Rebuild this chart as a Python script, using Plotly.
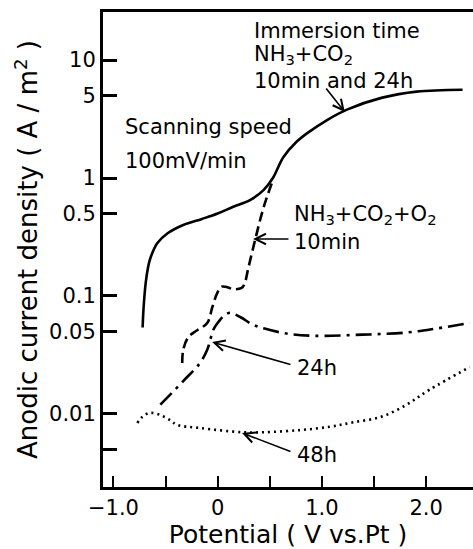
import plotly.graph_objects as go

# NH3+CO2 (10 min and 24 h) - solid
x_solid = [-0.72, -0.71, -0.69, -0.665, -0.645, -0.58, -0.48, -0.33, -0.15, 0.0, 0.15, 0.31,
           0.44, 0.53, 0.63, 0.75, 0.86, 1.05, 1.24, 1.58, 1.91, 2.35]
y_solid = [0.054, 0.081, 0.13, 0.18, 0.21, 0.28, 0.34, 0.40, 0.45, 0.50, 0.57, 0.65,
           0.79, 1.0, 1.5, 2.0, 2.4, 3.1, 3.8, 4.8, 5.4, 5.6]

# NH3+CO2+O2 10 min - dashed
x_10min = [-0.34, -0.33, -0.28, -0.20, -0.10, -0.05, 0.0, 0.04, 0.10, 0.15, 0.23, 0.26,
           0.29, 0.36, 0.44, 0.53]
y_10min = [0.027, 0.035, 0.045, 0.051, 0.059, 0.081, 0.108, 0.120, 0.118, 0.114, 0.117, 0.128,
           0.166, 0.30, 0.56, 0.96]

# NH3+CO2+O2 24 h - dash-dot
x_24h = [-0.55, -0.33, -0.17, -0.10, -0.04, 0.0, 0.06, 0.12, 0.22, 0.34, 0.45, 0.66,
         0.91, 1.39, 1.81, 2.10, 2.42]
y_24h = [0.012, 0.019, 0.027, 0.035, 0.052, 0.059, 0.068, 0.072, 0.066, 0.057, 0.053, 0.048,
         0.046, 0.047, 0.049, 0.053, 0.059]

# NH3+CO2+O2 48 h - dotted
x_48h = [-0.77, -0.72, -0.65, -0.55, -0.45, -0.39, -0.17, 0.24, 0.44, 0.79, 1.08, 1.30,
         1.56, 1.80, 2.03, 2.42]
y_48h = [0.0084, 0.0095, 0.0102, 0.0098, 0.0088, 0.0081, 0.0076, 0.0070, 0.0070, 0.0073, 0.0078,
         0.0085, 0.0094, 0.0118, 0.0160, 0.025]

x_tickvals = [-1.0, -0.5, 0.0, 0.5, 1.0, 1.5, 2.0]
x_ticktext = ["\u22121.0", "", "0", "", "1.0", "", "2.0"]
y_tickvals = [0.005, 0.01, 0.05, 0.1, 0.5, 1, 5, 10]
y_ticktext = ["", "0.01", "0.05", "0.1", "0.5", "1", "5", "10"]

FONT = "DejaVu Sans"

fig = go.Figure()
fig.add_trace(go.Scatter(x=x_solid, y=y_solid, mode="lines", line_shape="spline",
                         line=dict(color="black", width=2.6, dash="solid")))
fig.add_trace(go.Scatter(x=x_10min, y=y_10min, mode="lines", line_shape="spline",
                         line=dict(color="black", width=2.6, dash="10px,5px")))
fig.add_trace(go.Scatter(x=x_24h, y=y_24h, mode="lines", line_shape="spline",
                         line=dict(color="black", width=2.6, dash="16px,6px,3px,6px")))
fig.add_trace(go.Scatter(x=x_48h, y=y_48h, mode="lines", line_shape="spline",
                         line=dict(color="black", width=2.6, dash="2px,4px")))

texts = [
    ("Immersion time", 0.33, 1.245),
    ("NH<sub>3</sub>+CO<sub>2</sub>", 0.33, 1.045),
    ("10min and 24h", 0.33, 0.82),
    ("Scanning speed", -0.904, 0.432),
    ("100mV/min", -0.904, 0.144),
    ("NH<sub>3</sub>+CO<sub>2</sub>+O<sub>2</sub>", 0.713, -0.315),
    ("10min", 0.713, -0.545),
    ("24h", 0.742, -1.61),
    ("48h", 0.742, -2.347),
]
for t, xx, yy in texts:
    fig.add_annotation(x=xx, y=yy, text=t, showarrow=False, xanchor="left", yanchor="middle",
                       font=dict(family=FONT, size=21, color="black"))

arrows = [
    (1.22, 0.559, 1.03, 0.771),
    (0.34, -0.517, 0.694, -0.517),
    (-0.053, -1.39, 0.713, -1.585),
    (0.234, -2.161, 0.713, -2.322),
]
for hx, hy, tx, ty in arrows:
    fig.add_annotation(x=hx, y=hy, ax=tx, ay=ty, axref="x", ayref="y", xref="x", yref="y",
                       text="", showarrow=True, arrowhead=5, arrowsize=1.3, arrowwidth=1.6,
                       arrowcolor="black")

fig.update_layout(
    width=473, height=549,
    margin=dict(l=103, r=0, t=12, b=62),
    paper_bgcolor="white", plot_bgcolor="white",
    showlegend=False,
    font=dict(family=FONT, color="black"),
    xaxis=dict(range=[-1.1, 2.45], tickvals=x_tickvals, ticktext=x_ticktext,
               ticks="inside", ticklen=11, tickwidth=2, tickcolor="black",
               showline=True, linewidth=3, linecolor="black", mirror=True,
               showgrid=False, zeroline=False,
               tickfont=dict(family=FONT, size=21),
               title=dict(text="Potential ( V vs.Pt )", font=dict(family=FONT, size=25), standoff=0)),
    yaxis=dict(type="log", range=[-2.619, 1.407], tickvals=y_tickvals, ticktext=y_ticktext,
               ticks="inside", ticklen=14, tickwidth=2.5, tickcolor="black",
               showline=True, linewidth=3, linecolor="black", mirror=False,
               showgrid=False, zeroline=False,
               tickfont=dict(family=FONT, size=21),
               title=dict(text="Anodic current density ( A / m<sup>2</sup> )",
                          font=dict(family=FONT, size=26), standoff=4)),
)

fig.write_html("out.html", config={"displayModeBar": False},
               post_script="document.body.style.margin='0';")
